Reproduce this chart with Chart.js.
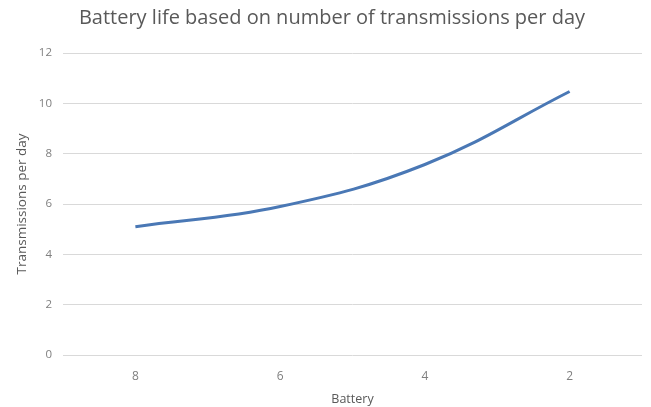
<!DOCTYPE html>
<html>
<head>
<meta charset="utf-8">
<script src="https://cdn.jsdelivr.net/npm/chart.js@4.4.0/dist/chart.umd.min.js"></script>
<style>
  html, body { margin: 0; padding: 0; background: #fff; }
  #wrap { width: 651px; height: 407px; }
</style>
</head>
<body>
<div id="wrap"><canvas id="chart" width="651" height="407"></canvas></div>
<script>
// battery levels (x categories) and transmissions per day
const batteryLabels = ['8', '6', '4', '2'];
const transmissions = [5.1, 5.9, 7.57, 10.47];
const yTicks = [0, 2, 4, 6, 8, 10, 12];

const fontFamily = '"Open Sans", "Noto Sans", sans-serif';
const tickColor = '#7f7f7f';

// nudge the title a few px right, the original is centred on the whole image
const titleShift = {
    id: 'titleShift',
    afterLayout(chart) {
        if (chart.titleBlock) {
            chart.titleBlock.left += 4;
            chart.titleBlock.right += 4;
        }
    }
};

const ctx = document.getElementById('chart').getContext('2d');
new Chart(ctx, {
    type: 'line',
    data: {
        labels: batteryLabels,
        datasets: [{
            label: 'Transmissions per day',
            data: transmissions,
            borderColor: '#4a78b5',
            borderWidth: 3,
            pointRadius: 0,
            tension: 0.4,
            fill: false
        }]
    },
    options: {
        responsive: false,
        animation: false,
        devicePixelRatio: 1,
        layout: { padding: { top: 4, right: 9, left: 14, bottom: 0 } },
        plugins: {
            legend: { display: false },
            tooltip: { enabled: false },
            title: {
                display: true,
                text: 'Battery life based on number of transmissions per day',
                color: '#595959',
                font: { family: fontFamily, size: 20, weight: 'normal' },
                padding: { top: 2, bottom: 23 }
            }
        },
        scales: {
            x: {
                offset: true,
                grid: { display: false, drawTicks: false },
                border: { display: false },
                ticks: {
                    color: tickColor,
                    font: { family: fontFamily, size: 12 },
                    padding: 14
                },
                title: {
                    display: true,
                    text: 'Battery',
                    color: '#595959',
                    font: { family: fontFamily, size: 12.5 },
                    padding: { top: 4, bottom: 0 }
                },
                afterFit: (scale) => { scale.height = 52; }
            },
            y: {
                min: 0,
                max: 12,
                afterBuildTicks: (scale) => {
                    scale.ticks = yTicks.map(v => ({ value: v }));
                },
                grid: { color: '#d9d9d9', lineWidth: 1, drawTicks: false },
                border: { display: false },
                ticks: {
                    color: tickColor,
                    font: { family: fontFamily, size: 11.5 },
                    padding: 11
                },
                title: {
                    display: true,
                    text: 'Transmissions per day',
                    color: '#595959',
                    font: { family: fontFamily, size: 13.5 },
                    padding: { top: 0, bottom: 4 }
                },
                afterFit: (scale) => { scale.width = 49; }
            }
        }
    },
    plugins: [titleShift]
});
</script>
</body>
</html>
